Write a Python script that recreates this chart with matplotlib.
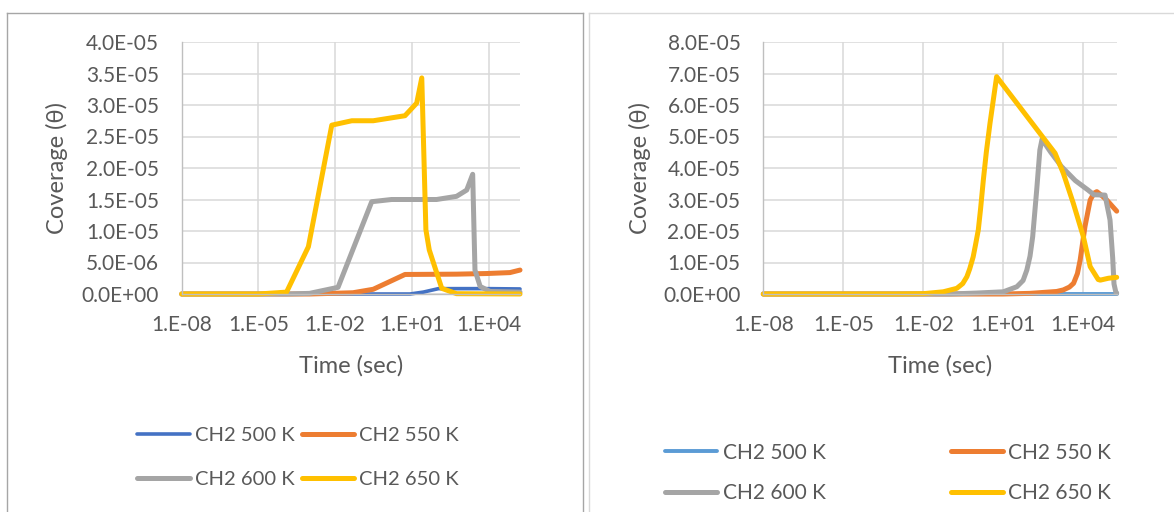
import matplotlib
matplotlib.use("Agg")
import matplotlib.pyplot as plt
from matplotlib.lines import Line2D
from matplotlib.ticker import FixedLocator, NullLocator, FixedFormatter

# ---------------- data ----------------
# Left panel: CH2 coverage vs time
l_t_500 = [1e-8, 1e-3, 1e-1, 8.5, 28, 110, 1e3, 1e4, 1.7e5]
l_c_500 = [0, 0, 0, 0, 0.3e-6, 0.85e-6, 0.85e-6, 0.85e-6, 0.8e-6]

l_t_550 = [1e-8, 1e-3, 0.05, 0.31, 5.4, 560, 8500, 6.9e4, 1.7e5]
l_c_550 = [0, 0, 0.2e-6, 0.75e-6, 3.1e-6, 3.15e-6, 3.25e-6, 3.4e-6, 3.8e-6]

l_t_600 = [1e-8, 1.3e-4, 1e-3, 0.013, 0.27, 1.6, 93, 560, 1400, 2400, 2700,
           2950, 4700, 1.15e4, 1.7e5]
l_c_600 = [0, 0, 0.1e-6, 1.06e-6, 14.65e-6, 15.0e-6, 15.0e-6, 15.5e-6,
           16.5e-6, 19.0e-6, 10.2e-6, 3.8e-6, 1.2e-6, 0.4e-6, 0.3e-6]

l_t_650 = [1e-8, 1e-5, 1.26e-4, 9e-4, 7.4e-3, 0.045, 0.31, 5.4, 15.5, 24.5,
           35.5, 48, 148, 560, 1.7e5]
l_c_650 = [0, 0, 0.3e-6, 7.5e-6, 26.8e-6, 27.5e-6, 27.5e-6, 28.3e-6,
           30.3e-6, 34.3e-6, 10.2e-6, 7.0e-6, 0.9e-6, 0.05e-6, 0]

# Right panel: CH2 coverage vs time
r_t_500 = [1e-8, 1e-2, 1.0, 100, 1e4, 1.78e5]
r_c_500 = [0, 0, 0, 0, 0, 0]

r_t_550 = [1e-8, 10, 100, 1000, 1780, 3000, 4300, 6000, 7600, 1.15e4, 1.8e4,
           2.5e4, 3.2e4, 4.5e4, 7.6e4, 1.78e5]
r_c_550 = [0, 0, 0.2e-6, 0.8e-6, 1.3e-6, 2.2e-6, 3.4e-6, 6.5e-6, 10.8e-6,
           21.4e-6, 29.8e-6, 32.0e-6, 32.5e-6, 31.5e-6, 29.8e-6, 26.3e-6]

r_t_600 = [1e-8, 0.1, 1.0, 10, 32, 55, 76, 100, 126, 178, 234, 282, 600, 1500,
           5000, 1.5e4, 2.5e4, 6.5e4, 1e5, 1.26e5, 1.41e5, 1.66e5, 1.78e5]
r_c_600 = [0, 0, 0.3e-6, 0.7e-6, 2.3e-6, 4.3e-6, 7.6e-6, 12e-6, 18.2e-6,
           33e-6, 45.7e-6, 49.1e-6, 45e-6, 40.5e-6, 36e-6, 33e-6, 31.5e-6,
           31.4e-6, 23.5e-6, 11.4e-6, 3.2e-6, 0.5e-6, 0.3e-6]

r_t_650 = [1e-8, 1e-3, 1e-2, 0.056, 0.18, 0.3, 0.43, 0.55, 0.74, 0.9, 1.15,
           1.4, 1.78, 2.3, 3.16, 5.6, 363, 870, 1780, 4200, 1e4, 1.8e4, 3.6e4,
           4.3e4, 8.7e4, 1.78e5]
r_c_650 = [0, 0, 0.1e-6, 0.7e-6, 1.8e-6, 3.3e-6, 5.5e-6, 8.0e-6, 11.8e-6,
           15.5e-6, 20.3e-6, 27e-6, 36.2e-6, 45e-6, 54.2e-6, 69.0e-6, 48.9e-6,
           44.7e-6, 38.3e-6, 28.8e-6, 18.2e-6, 8.7e-6, 4.6e-6, 4.4e-6, 5.0e-6,
           5.3e-6]

series_labels = ["CH2 500 K", "CH2 550 K", "CH2 600 K", "CH2 650 K"]

x_ticks = [1e-8, 1e-5, 1e-2, 1e1, 1e4]
x_tick_labels = ["1.E-08", "1.E-05", "1.E-02", "1.E+01", "1.E+04"]

l_y_ticks = [0, 5e-6, 10e-6, 15e-6, 20e-6, 25e-6, 30e-6, 35e-6, 40e-6]
l_y_tick_labels = ["0.0E+00", "5.0E-06", "1.0E-05", "1.5E-05", "2.0E-05",
                   "2.5E-05", "3.0E-05", "3.5E-05", "4.0E-05"]
r_y_ticks = [0, 10e-6, 20e-6, 30e-6, 40e-6, 50e-6, 60e-6, 70e-6, 80e-6]
r_y_tick_labels = ["0.0E+00", "1.0E-05", "2.0E-05", "3.0E-05", "4.0E-05",
                   "5.0E-05", "6.0E-05", "7.0E-05", "8.0E-05"]

# ---------------- style ----------------
plt.rcParams["font.family"] = ["Lato", "DejaVu Sans"]
TXT = "#595959"
GRID = "#D9D9D9"
C_ORANGE = "#ED7D31"
C_GRAY = "#A5A5A5"
C_YELLOW = "#FFC000"

W, H = 1174, 512
fig = plt.figure(figsize=(W / 100, H / 100), dpi=100)


def fx(px):
    return px / W


def fy(py):
    return 1 - py / H


def make_axes(x0, x1, y0, y1):
    return fig.add_axes([fx(x0), fy(y1), fx(x1) - fx(x0), (y1 - y0) / H])


def style_axes(ax, xmax, yticks, ylabels):
    ax.set_xscale("log")
    ax.set_xlim(1e-8, xmax)
    ax.set_ylim(yticks[0], yticks[-1])
    ax.xaxis.set_major_locator(FixedLocator(x_ticks))
    ax.xaxis.set_major_formatter(FixedFormatter(x_tick_labels))
    ax.xaxis.set_minor_locator(NullLocator())
    ax.yaxis.set_major_locator(FixedLocator(yticks))
    ax.yaxis.set_major_formatter(FixedFormatter(ylabels))
    ax.grid(True, color=GRID, lw=1.1)
    ax.set_axisbelow(True)
    for s in ("top", "right"):
        ax.spines[s].set_visible(False)
    for s in ("left", "bottom"):
        ax.spines[s].set_color("#BFBFBF")
        ax.spines[s].set_linewidth(1.0)
    ax.tick_params(axis="both", length=0, labelsize=15, colors=TXT)
    ax.tick_params(axis="x", pad=15)
    ax.tick_params(axis="y", pad=16.5)


def draw(ax, series, colors, widths):
    handles = []
    for (t, c), col, lw, lab in zip(series, colors, widths, series_labels):
        h, = ax.plot(t, c, color=col, lw=lw, solid_capstyle="round",
                     solid_joinstyle="round", clip_on=False, label=lab)
        handles.append(h)
    return handles


# ---- left panel ----
axL = make_axes(181.7, 520, 42, 294)
style_axes(axL, 1.7e5, l_y_ticks, l_y_tick_labels)
hL = draw(axL,
          [(l_t_500, l_c_500), (l_t_550, l_c_550), (l_t_600, l_c_600), (l_t_650, l_c_650)],
          ["#4472C4", C_ORANGE, C_GRAY, C_YELLOW], [2.6, 3.6, 3.6, 3.6])

# ---- right panel ----
axR = make_axes(763.3, 1116.7, 42, 294)
style_axes(axR, 1.78e5, r_y_ticks, r_y_tick_labels)
hR = draw(axR,
          [(r_t_500, r_c_500), (r_t_550, r_c_550), (r_t_600, r_c_600), (r_t_650, r_c_650)],
          ["#5B9BD5", C_ORANGE, C_GRAY, C_YELLOW], [2.8, 3.6, 3.6, 3.6])

# axis titles
for xc, yc in ((57, 168), (640, 168)):
    fig.text(fx(xc), fy(yc), "Coverage (θ)", rotation=90, ha="center",
             va="center", fontsize=17, color=TXT)
for xc in (351, 940):
    fig.text(fx(xc), fy(366), "Time (sec)", ha="center", va="center",
             fontsize=17, color=TXT)

# legends (row-wise order: 500, 550 / 600, 650)
order = [0, 2, 1, 3]
legL = fig.legend([hL[i] for i in order], [series_labels[i] for i in order],
                  ncol=2, frameon=False, fontsize=14.5, labelcolor=TXT,
                  handlelength=2.6, handletextpad=0.25, columnspacing=0.35,
                  labelspacing=1.35, borderpad=0, borderaxespad=0,
                  loc="center", bbox_to_anchor=(fx(298), fy(457.5)))
legR = fig.legend([hR[i] for i in order], [series_labels[i] for i in order],
                  ncol=2, frameon=False, fontsize=15, labelcolor=TXT,
                  handlelength=2.5, handletextpad=0.25, columnspacing=6.0,
                  labelspacing=1.0, borderpad=0, borderaxespad=0,
                  loc="center", bbox_to_anchor=(fx(888), fy(473)))

# panel frames
frame_dark = "#A6A6A6"
frame_light = "#D9D9D9"
for xs, ys, col in (
    ((6.7, 6.7), (12.7, 520), frame_dark),
    ((6.7, 582.7), (12.7, 12.7), frame_dark),
    ((582.7, 582.7), (12.7, 520), frame_dark),
    ((589, 589), (12.7, 520), frame_light),
    ((589, 1180), (12.7, 12.7), frame_light),
):
    fig.add_artist(Line2D([fx(x) for x in xs], [fy(y) for y in ys],
                          transform=fig.transFigure, color=col, lw=1.0))

fig.savefig("out.png", dpi=100)
